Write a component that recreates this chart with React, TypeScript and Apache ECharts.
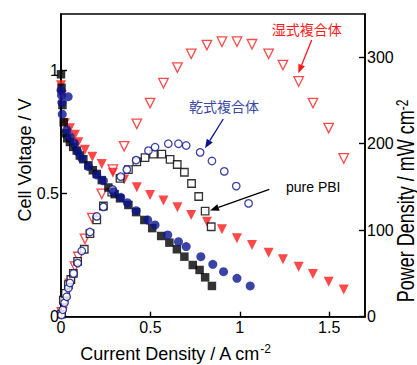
import React, { useEffect, useRef } from "react";
import * as echarts from "echarts";

// Current density (A cm-2) and values
const pbiVX = [0, 0.003, 0.008, 0.015, 0.022, 0.035, 0.05, 0.068, 0.088, 0.105, 0.125, 0.153, 0.178, 0.2, 0.228, 0.265, 0.3, 0.33, 0.377, 0.42, 0.466, 0.51, 0.56, 0.606, 0.648, 0.69, 0.737, 0.775, 0.806, 0.844];
const pbiV = [0.985, 0.93, 0.86, 0.79, 0.745, 0.725, 0.71, 0.69, 0.675, 0.655, 0.64, 0.615, 0.595, 0.58, 0.555, 0.525, 0.498, 0.481, 0.454, 0.425, 0.393, 0.36, 0.328, 0.301, 0.274, 0.244, 0.21, 0.19, 0.16, 0.125];
const pbiPX = [0.003, 0.013, 0.025, 0.041, 0.055, 0.069, 0.093, 0.13, 0.162, 0.2, 0.237, 0.284, 0.33, 0.377, 0.424, 0.47, 0.517, 0.564, 0.61, 0.65, 0.69, 0.73, 0.77, 0.806, 0.84];
const pbiP = [3, 19, 27, 37, 43, 50, 64, 78, 96, 112, 128, 144, 160, 170, 179, 184, 188, 188, 182, 176, 167, 154, 139, 122, 104];

const dryVX = [0, 0.003, 0.04, 0.005, 0.007, 0.032, 0.05, 0.075, 0.093, 0.116, 0.153, 0.2, 0.237, 0.293, 0.334, 0.371, 0.42, 0.485, 0.526, 0.597, 0.657, 0.7, 0.782, 0.849, 0.909, 0.984, 1.058];
const dryV = [0.92, 0.9, 0.894, 0.87, 0.823, 0.759, 0.732, 0.705, 0.671, 0.644, 0.61, 0.576, 0.552, 0.508, 0.485, 0.463, 0.431, 0.393, 0.373, 0.332, 0.305, 0.285, 0.244, 0.213, 0.183, 0.156, 0.125];
const dryPX = [0.003, 0.01, 0.02, 0.032, 0.041, 0.05, 0.07, 0.093, 0.116, 0.162, 0.2, 0.237, 0.289, 0.334, 0.368, 0.42, 0.489, 0.526, 0.6, 0.657, 0.7, 0.778, 0.844, 0.913, 0.98, 1.049];
const dryP = [2, 8, 16, 23, 33, 39, 50, 62, 76, 98, 116, 127, 147, 162, 170, 181, 192, 196, 200, 200, 198, 190, 180, 168, 151, 131];

const wetVX = [0, 0.005, 0.022, 0.05, 0.078, 0.097, 0.134, 0.175, 0.228, 0.29, 0.353, 0.424, 0.498, 0.573, 0.651, 0.728, 0.816, 0.9, 0.984, 1.068, 1.161, 1.241, 1.329, 1.409, 1.497, 1.581];
const wetV = [0.94, 0.9, 0.786, 0.766, 0.739, 0.709, 0.678, 0.65, 0.62, 0.585, 0.558, 0.526, 0.495, 0.472, 0.445, 0.413, 0.386, 0.355, 0.319, 0.291, 0.26, 0.233, 0.203, 0.174, 0.142, 0.111];
const wetPX = [0.005, 0.022, 0.05, 0.078, 0.097, 0.134, 0.175, 0.228, 0.29, 0.353, 0.424, 0.498, 0.573, 0.651, 0.728, 0.816, 0.9, 0.984, 1.068, 1.161, 1.241, 1.329, 1.409, 1.497, 1.581];
const wetP = [5, 17, 38, 58, 69, 90, 114, 142, 170, 197, 223, 247, 270, 288, 304, 314, 318, 318, 315, 304, 291, 272, 247, 218, 183];

const xTicks = [0, 0.5, 1, 1.5];
const labelWet = "湿式複合体";
const labelDry = "乾式複合体";
const labelPbi = "pure PBI";

const FONT = "'Liberation Sans', Arial, sans-serif";
const CJK = "'Noto Sans CJK JP', 'Noto Sans CJK SC', sans-serif";
const RED = "#ff1a1a";
const BLUE = "#0a1490";

function zip(xs: number[], ys: number[]) {
  return xs.map((x, i) => [x, ys[i]]);
}

function arrow(x1: number, y1: number, x2: number, y2: number, color: string) {
  const dx = x2 - x1;
  const dy = y2 - y1;
  const len = Math.sqrt(dx * dx + dy * dy);
  const ux = dx / len;
  const uy = dy / len;
  const hl = 9;
  const hw = 3.5;
  const bx = x2 - ux * hl;
  const by = y2 - uy * hl;
  return [
    { type: "line", shape: { x1, y1, x2: bx, y2: by }, style: { stroke: color, lineWidth: 1.3 } },
    {
      type: "polygon",
      shape: { points: [[x2, y2], [bx - uy * hw, by + ux * hw], [bx + uy * hw, by - ux * hw]] },
      style: { fill: color },
    },
  ];
}

export default function App() {
  const ref = useRef<HTMLDivElement>(null);
  useEffect(() => {
    if (!ref.current) return;
    const chart = echarts.init(ref.current, null, { renderer: "svg" });
    const axisLine = { show: true, lineStyle: { color: "#000", width: 1.6 } };
    const axisTick = { show: true, inside: true, length: 6, lineStyle: { color: "#000", width: 1.4 } };
    const axisLabel = { color: "#000", fontSize: 16, fontFamily: FONT, showMaxLabel: false };
    const option: any = {
      animation: false,
      backgroundColor: "#fff",
      grid: { left: 61, right: 52, top: 14, bottom: 48.3, show: true, borderColor: "#000", borderWidth: 1.6 },
      xAxis: {
        type: "value",
        min: 0,
        max: 1.7,
        interval: 0.5,
        axisLine,
        axisTick: { ...axisTick, length: 5 },
        splitLine: { show: false },
        axisLabel: {
          ...axisLabel,
          margin: 3,
          formatter: (v: number) => (xTicks.indexOf(v) >= 0 ? String(v) : ""),
        },
      },
      yAxis: [
        {
          type: "value",
          min: 0,
          max: 1.23,
          interval: 0.5,
          position: "left",
          axisLine,
          axisTick,
          splitLine: { show: false },
          axisLabel: { ...axisLabel, margin: 2 },
        },
        {
          type: "value",
          min: 0,
          max: 350,
          interval: 100,
          position: "right",
          axisLine,
          axisTick,
          splitLine: { show: false },
          axisLabel: { ...axisLabel, margin: 2 },
        },
      ],
      series: [
        {
          type: "scatter", yAxisIndex: 1, data: zip(wetPX, wetP), symbol: "triangle", symbolRotate: 180, symbolSize: 9.5,
          itemStyle: { color: "transparent", borderColor: RED, borderWidth: 1.3 },
        },
        {
          type: "scatter", yAxisIndex: 0, data: zip(wetVX, wetV), symbol: "triangle", symbolRotate: 180, symbolSize: 10,
          itemStyle: { color: RED },
        },
        {
          type: "scatter", yAxisIndex: 1, data: zip(pbiPX, pbiP), symbol: "rect", symbolSize: 7.5,
          itemStyle: { color: "#fff", borderColor: "#000", borderWidth: 1.3 },
        },
        {
          type: "scatter", yAxisIndex: 0, data: zip(pbiVX, pbiV), symbol: "rect", symbolSize: 8.5,
          itemStyle: { color: "#000" },
        },
        {
          type: "scatter", yAxisIndex: 1, data: zip(dryPX, dryP), symbol: "circle", symbolSize: 7.5,
          itemStyle: { color: "#fff", borderColor: BLUE, borderWidth: 1.3 },
        },
        {
          type: "scatter", yAxisIndex: 0, data: zip(dryVX, dryV), symbol: "circle", symbolSize: 9,
          itemStyle: { color: BLUE },
        },
      ],
      graphic: [
        {
          type: "text", x: 25, y: 160, rotation: Math.PI / 2,
          style: { text: "Cell Voltage / V", fill: "#000", font: `18px ${FONT}`, align: "center", verticalAlign: "middle" },
        },
        {
          type: "text", x: 406, y: 201, rotation: Math.PI / 2, scaleY: 1.34,
          style: {
            text: "{a|Power Density / mW cm}{s|-2}",
            align: "center", verticalAlign: "middle",
            rich: {
              a: { fontSize: 18, fontFamily: FONT, fill: "#000", lineHeight: 18 },
              s: { fontSize: 12, fontFamily: FONT, fill: "#000", verticalAlign: "top", lineHeight: 18 },
            },
          },
        },
        {
          type: "text", x: 175, y: 354,
          style: {
            text: "{a|Current Density / A cm}{s|-2}",
            align: "center", verticalAlign: "middle",
            rich: {
              a: { fontSize: 18, fontFamily: FONT, fill: "#000", lineHeight: 22 },
              s: { fontSize: 12, fontFamily: FONT, fill: "#000", verticalAlign: "top", lineHeight: 22 },
            },
          },
        },
        {
          type: "text", x: 306.7, y: 29.3,
          style: { text: labelWet, fill: RED, font: `14px ${CJK}`, align: "center", verticalAlign: "middle" },
        },
        {
          type: "text", x: 224, y: 105.5,
          style: { text: labelDry, fill: "#3a48a8", font: `14px ${CJK}`, align: "center", verticalAlign: "middle" },
        },
        {
          type: "text", x: 286, y: 186.7,
          style: { text: labelPbi, fill: "#000", font: `14px ${FONT}`, align: "left", verticalAlign: "middle" },
        },
        ...arrow(311.7, 40, 298.3, 73.3, RED),
        ...arrow(223.3, 119, 205, 148.3, BLUE),
        ...arrow(269.3, 189.3, 210, 210.5, "#000"),
      ],
    };
    chart.setOption(option);
    return () => chart.dispose();
  }, []);
  return (
    <div
      ref={ref}
      style={{ position: "fixed", left: 0, top: 0, width: 417, height: 365, background: "#fff" }}
    />
  );
}
